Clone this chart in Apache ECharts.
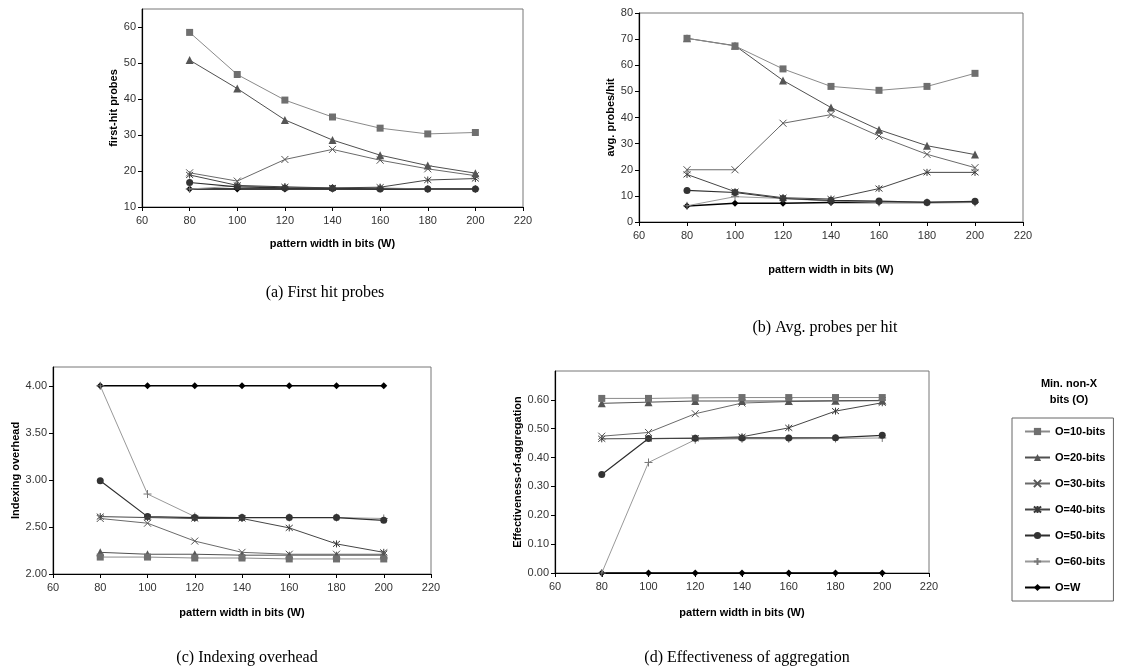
<!DOCTYPE html>
<html>
<head>
<meta charset="utf-8">
<script src="https://cdn.jsdelivr.net/npm/echarts@6/dist/echarts.min.js"></script>
<style>
html,body{margin:0;padding:0;background:#fff;}
#chart{width:1127px;height:671px;}
</style>
</head>
<body>
<div id="chart"></div>
<script>
// x values (pattern width W)
var widths = [80, 100, 120, 140, 160, 180, 200];
var xTicks = [60, 80, 100, 120, 140, 160, 180, 200, 220];
var seriesNames = ['O=10-bits', 'O=20-bits', 'O=30-bits', 'O=40-bits', 'O=50-bits', 'O=60-bits', 'O=W'];

// rows follow seriesNames order
var firstHitRows = [
    [58.5, 46.8, 39.7, 35.0, 31.9, 30.3, 30.7],
    [50.8, 42.9, 34.2, 28.6, 24.4, 21.5, 19.4],
    [19.5, 17.2, 23.2, 26.0, 23.0, 20.6, 18.7],
    [18.9, 16.0, 15.6, 15.3, 15.5, 17.5, 17.9],
    [16.8, 15.6, 15.3, 15.2, 15.0, 15.0, 15.0],
    [15.0, 15.8, 15.5, 15.2, 15.3, 15.0, 15.0],
    [15.0, 15.0, 15.0, 15.0, 15.0, 15.0, 15.0]
];
var avgProbesRows = [
    [70.3, 67.4, 58.6, 51.9, 50.4, 51.9, 56.9],
    [70.3, 67.5, 54.2, 43.8, 35.3, 29.2, 25.8],
    [20.0, 20.0, 37.8, 41.1, 32.9, 25.9, 20.8],
    [18.2, 11.6, 9.3, 8.8, 12.8, 19.0, 19.0],
    [12.1, 11.3, 9.0, 8.3, 8.0, 7.5, 7.9],
    [6.2, 9.7, 9.0, 8.0, 7.5, 7.5, 7.5],
    [6.1, 7.2, 7.2, 7.5, 7.6, 7.5, 7.6]
];
var overheadRows = [
    [2.18, 2.18, 2.17, 2.17, 2.16, 2.16, 2.16],
    [2.23, 2.21, 2.21, 2.20, 2.20, 2.20, 2.20],
    [2.59, 2.54, 2.35, 2.23, 2.21, 2.21, 2.21],
    [2.61, 2.60, 2.59, 2.59, 2.49, 2.32, 2.23],
    [2.99, 2.61, 2.60, 2.60, 2.60, 2.60, 2.57],
    [4.00, 2.85, 2.61, 2.60, 2.60, 2.60, 2.59],
    [4.00, 4.00, 4.00, 4.00, 4.00, 4.00, 4.00]
];
var aggregationRows = [
    [0.605, 0.605, 0.607, 0.608, 0.608, 0.608, 0.608],
    [0.588, 0.592, 0.596, 0.596, 0.596, 0.597, 0.598],
    [0.474, 0.487, 0.552, 0.589, 0.594, 0.596, 0.597],
    [0.465, 0.466, 0.467, 0.472, 0.503, 0.561, 0.590],
    [0.341, 0.466, 0.467, 0.468, 0.468, 0.469, 0.477],
    [0.000, 0.383, 0.462, 0.465, 0.465, 0.466, 0.468],
    [0.000, 0.000, 0.000, 0.000, 0.000, 0.000, 0.000]
];

var sansFont = '"Liberation Sans", Arial, sans-serif';
var serifFont = '"Liberation Serif", "Times New Roman", serif';

// marker look per series (same order as seriesNames)
var looks = [
    { symbol: 'rect', size: 7, line: '#8a8a8a', mark: '#6f6f6f', stroke: 0, width: 1 },
    { symbol: 'triangle', size: 8, line: '#505050', mark: '#555555', stroke: 0, width: 1 },
    { symbol: 'path://M0,0L10,10M10,0L0,10', size: 7, line: '#6a6a6a', mark: '#555555', stroke: 1, width: 1 },
    { symbol: 'path://M0,0L10,10M10,0L0,10M5,-1L5,11', size: 7, line: '#454545', mark: '#3a3a3a', stroke: 1, width: 1 },
    { symbol: 'circle', size: 7, line: '#2e2e2e', mark: '#333333', stroke: 0, width: 1.2 },
    { symbol: 'path://M5,0L5,10M0,5L10,5', size: 8, line: '#999999', mark: '#777777', stroke: 1, width: 1 },
    { symbol: 'diamond', size: 7, line: '#000000', mark: '#000000', stroke: 0, width: 1.5 }
];

function panelSeries(rows, idx) {
    var out = [];
    for (var i = 0; i < rows.length; i++) {
        var lk = looks[i];
        var pts = [];
        for (var j = 0; j < widths.length; j++) {
            pts.push([widths[j], rows[i][j]]);
        }
        out.push({
            name: seriesNames[i],
            type: 'line',
            xAxisIndex: idx,
            yAxisIndex: idx,
            data: pts,
            symbol: lk.symbol,
            symbolSize: lk.size,
            lineStyle: { color: lk.line, width: lk.width },
            itemStyle: {
                color: lk.stroke ? 'rgba(0,0,0,0)' : lk.mark,
                borderColor: lk.mark,
                borderWidth: lk.stroke
            },
            z: 10 - i
        });
    }
    return out;
}

function xAxisFor(idx, gap) {
    return {
        type: 'value', gridIndex: idx, min: 60, max: 220, interval: 20,
        name: 'pattern width in bits (W)', nameLocation: 'middle', nameGap: gap,
        nameTextStyle: { fontFamily: sansFont, fontWeight: 'bold', fontSize: 11, color: '#000' },
        axisLine: { lineStyle: { color: '#000', width: 1.2 } },
        axisTick: { show: true, length: 4, lineStyle: { color: '#000' } },
        axisLabel: { fontFamily: sansFont, fontSize: 11, color: '#333', margin: 8 },
        splitLine: { show: false }
    };
}

function yAxisFor(idx, min, max, step, digits, title, gap) {
    return {
        type: 'value', gridIndex: idx, min: min, max: max, interval: step,
        name: title, nameLocation: 'middle', nameGap: gap,
        nameTextStyle: { fontFamily: sansFont, fontWeight: 'bold', fontSize: 11, color: '#000' },
        axisLine: { show: true, lineStyle: { color: '#000', width: 1.2 } },
        axisTick: { show: true, length: 4, lineStyle: { color: '#000' } },
        axisLabel: {
            fontFamily: sansFont, fontSize: 11, color: '#333', margin: 6,
            showMaxLabel: (max % step === 0),
            formatter: function (v) { return v.toFixed(digits); }
        },
        splitLine: { show: false }
    };
}

var chart = echarts.init(document.getElementById('chart'));

var series = []
    .concat(panelSeries(firstHitRows, 0))
    .concat(panelSeries(avgProbesRows, 1))
    .concat(panelSeries(overheadRows, 2))
    .concat(panelSeries(aggregationRows, 3));

var option = {
    animation: false,
    backgroundColor: '#fff',
    title: [
        { text: '(a) First hit probes', left: 320, top: 280, textAlign: 'center',
          textStyle: { fontFamily: serifFont, fontWeight: 'normal', fontSize: 16, color: '#000' } },
        { text: '(b) Avg. probes per hit', left: 820, top: 315, textAlign: 'center',
          textStyle: { fontFamily: serifFont, fontWeight: 'normal', fontSize: 16, color: '#000' } },
        { text: '(c) Indexing overhead', left: 242, top: 645, textAlign: 'center',
          textStyle: { fontFamily: serifFont, fontWeight: 'normal', fontSize: 16, color: '#000' } },
        { text: '(d) Effectiveness of aggregation', left: 742, top: 645, textAlign: 'center',
          textStyle: { fontFamily: serifFont, fontWeight: 'normal', fontSize: 16, color: '#000' } },
        { text: 'Min. non-X\nbits (O)', left: 1064, top: 371, textAlign: 'center',
          textStyle: { fontFamily: sansFont, fontWeight: 'bold', fontSize: 11, color: '#000', lineHeight: 16 } }
    ],
    legend: {
        data: seriesNames,
        orient: 'vertical',
        left: 1012,
        top: 418,
        width: 106,
        itemWidth: 25,
        itemHeight: 9,
        itemGap: 15,
        padding: [8, 8, 8, 12],
        borderColor: '#666',
        borderWidth: 1,
        textStyle: { fontFamily: sansFont, fontWeight: 'bold', fontSize: 11, color: '#000' }
    },
    grid: [
        { left: 142, top: 9, width: 381, height: 198, show: true, borderColor: '#777', borderWidth: 1 },
        { left: 639, top: 13, width: 384, height: 209, show: true, borderColor: '#777', borderWidth: 1 },
        { left: 53, top: 367, width: 378, height: 207, show: true, borderColor: '#777', borderWidth: 1 },
        { left: 555, top: 371, width: 374, height: 202, show: true, borderColor: '#777', borderWidth: 1 }
    ],
    xAxis: [xAxisFor(0, 31), xAxisFor(1, 42), xAxisFor(2, 33), xAxisFor(3, 34)],
    yAxis: [
        yAxisFor(0, 10, 65, 10, 0, 'first-hit probes', 23),
        yAxisFor(1, 0, 80, 10, 0, 'avg. probes/hit', 23),
        yAxisFor(2, 2, 4.2, 0.5, 2, 'Indexing overhead', 31),
        yAxisFor(3, 0, 0.7, 0.1, 2, 'Effectiveness-of-aggregation', 31)
    ],
    series: series
};

chart.setOption(option);
</script>
</body>
</html>
